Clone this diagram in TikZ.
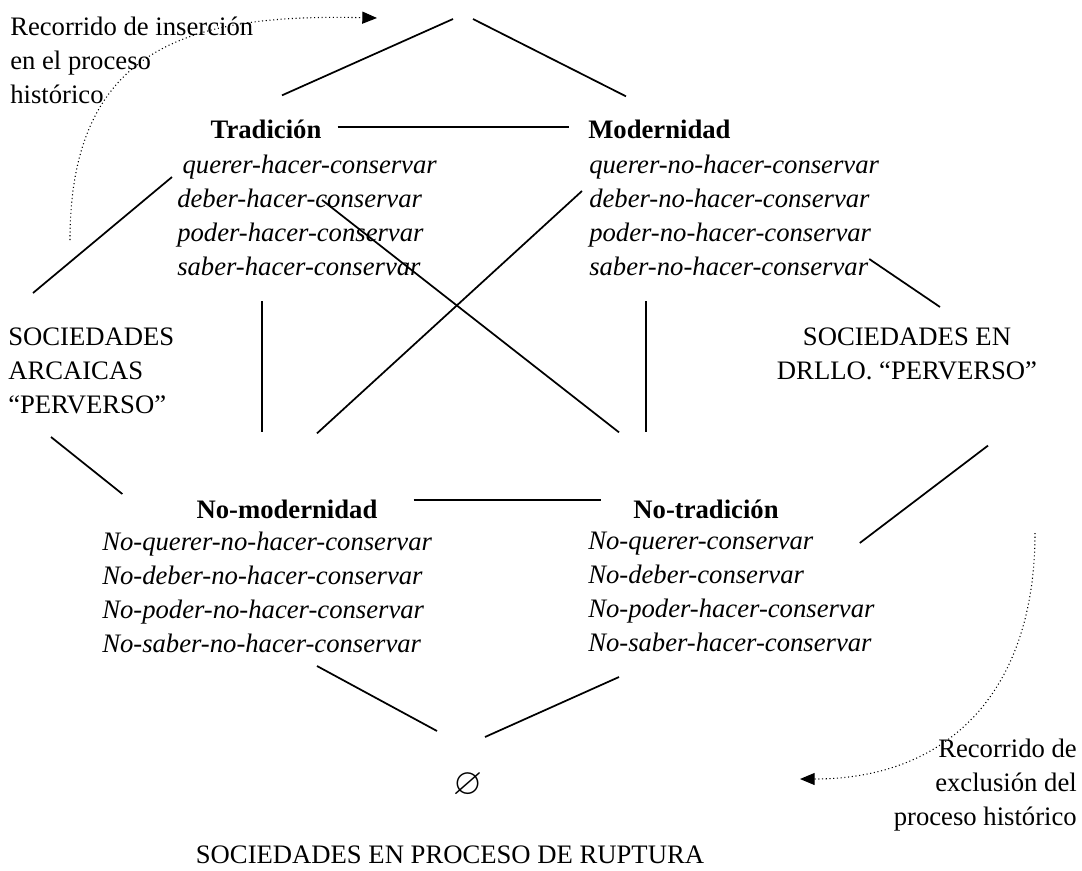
\documentclass[tikz,border=0pt]{standalone}
\usepackage{amssymb}
\usepackage{fontspec}
\setmainfont{Liberation Serif}
\usetikzlibrary{arrows.meta,calc}
\newcommand{\docsize}{\fontsize{20pt}{25.5pt}\selectfont}

\begin{document}
\begin{tikzpicture}[
  x=0.75pt, y=-0.75pt,
  txt/.style={inner sep=0pt, align=left, font=\docsize},
  hdr/.style={inner sep=0pt, font=\docsize\bfseries},
  lst/.style={inner sep=0pt, align=left, font=\docsize\itshape},
  link/.style={line width=1.3pt},
  flow/.style={dotted, line width=0.8pt, -{Triangle[length=11pt,width=9pt]}},
]
\useasboundingbox (0,0) rectangle (1082,871);

% upper corners
\coordinate (apex) at (463,14);
\node[hdr] (tradhdr) at (266,129) {Tradición};
\node[hdr, anchor=west] (modhdr) at (588,129) {Modernidad};
\node[lst, anchor=north west] (tradlist) at (177,155)
  {\hspace{4pt}querer-hacer-conservar\\deber-hacer-conservar\\
   poder-hacer-conservar\\saber-hacer-conservar};
\node[lst, anchor=north west] (modlist) at (589,155)
  {querer-no-hacer-conservar\\deber-no-hacer-conservar\\
   poder-no-hacer-conservar\\saber-no-hacer-conservar};

% side societies
\node[txt, anchor=north west] (arcaicas) at (8,328)
  {SOCIEDADES\\ARCAICAS\\“PERVERSO”};
\node[txt, align=center, anchor=north] (drllo) at (907,328)
  {SOCIEDADES EN\\DRLLO. “PERVERSO”};

% lower corners
\node[hdr] (nomodhdr) at (287,509) {No-modernidad};
\node[hdr] (notradhdr) at (706,509) {No-tradición};
\node[lst, anchor=north west] (nomodlist) at (102,532)
  {No-querer-no-hacer-conservar\\No-deber-no-hacer-conservar\\
   No-poder-no-hacer-conservar\\No-saber-no-hacer-conservar};
\node[lst, anchor=north west] (notradlist) at (588,532)
  {No-querer-conservar\\No-deber-conservar\\
   No-poder-hacer-conservar\\No-saber-hacer-conservar};

\node[inner sep=0pt, font=\fontsize{28pt}{30pt}\selectfont] (empty) at (468,785) {$\varnothing$};
\node[txt] (ruptura) at (450,855) {SOCIEDADES EN PROCESO DE RUPTURA};

% paths
\node[txt, anchor=north west] (inslbl) at (10,17)
  {Recorrido de inserción\\en el proceso\\histórico};
\node[txt, align=right, anchor=north east] (exclbl) at (1077,739)
  {Recorrido de\\exclusión del\\proceso histórico};

\draw[link] ($(apex)+(-10,5)$) -- ($(tradhdr.north)+(16,-24)$);
\draw[link] ($(apex)+(10,5)$) -- ($(modhdr.north west)+(38,-23)$);
\draw[link] ($(tradhdr.east)+(16,-2)$) -- ($(modhdr.west)+(-19,-2)$);
\draw[link] ($(tradlist.north west)+(-5,22)$) -- ($(arcaicas.north west)+(25,-35)$);
\draw[link] ($(tradlist.north west)+(85,146)$) -- ($(nomodhdr.north)+(-25,-67)$);
\draw[link] ($(modlist.north west)+(57,146)$) -- ($(notradhdr.north)+(-60,-67)$);
\draw[link] ($(tradlist.north west)+(145,45)$) -- ($(notradhdr.north)+(-87,-67)$);
\draw[link] ($(modlist.north west)+(-7,36)$) -- ($(nomodhdr.north)+(30,-66)$);
\draw[link] ($(modlist.north east)+(-10,104)$) -- ($(drllo.north)+(33,-21)$);
\draw[link] ($(arcaicas.north west)+(43,109)$) -- ($(nomodhdr.west)+(-74,-15)$);
\draw[link] ($(nomodhdr.east)+(36,-9)$) -- ($(notradhdr.west)+(-32,-9)$);
\draw[link] ($(notradlist.north east)+(-15,11)$) -- ($(drllo.south)+(81,65)$);
\draw[link] ($(nomodlist.north west)+(215,134)$) -- ($(empty)+(-31,-54)$);
\draw[link] ($(notradlist.north west)+(31,145)$) -- ($(empty)+(17,-48)$);

\coordinate (insfrom) at (70,240);
\draw[flow] (insfrom) .. controls +(0,-200) and +(-177,-4) .. ($(apex)+(-86,4)$);
\coordinate (exclfrom) at (1035,533);
\draw[flow] (exclfrom) .. controls +(0,157) and +(150,0) .. ($(empty)+(332,-6)$);

\end{tikzpicture}
\end{document}
